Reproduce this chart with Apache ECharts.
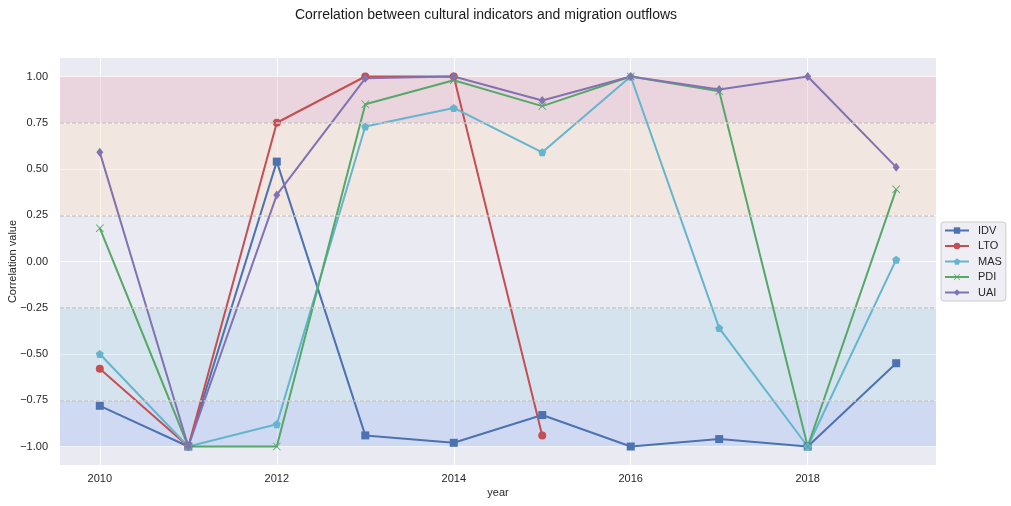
<!DOCTYPE html>
<html>
<head>
<meta charset="utf-8">
<script src="https://cdn.jsdelivr.net/npm/echarts@6/dist/echarts.min.js"></script>
<style>
html,body{margin:0;padding:0;background:#fff;}
#chart{width:1011px;height:506px;}
</style>
</head>
<body>
<div id="chart"></div>
<script>
const years = [2010, 2011, 2012, 2013, 2014, 2015, 2016, 2017, 2018, 2019];
const IDV = [-0.78, -1.00, 0.54, -0.94, -0.98, -0.83, -1.00, -0.96, -1.00, -0.55];
const LTO = [-0.58, -1.00, 0.75, 1.00, 1.00, -0.94, null, null, null, null];
const MAS = [-0.50, -1.00, -0.88, 0.73, 0.83, 0.59, 1.00, -0.36, -1.00, 0.01];
const PDI = [0.18, -1.00, -1.00, 0.85, 0.98, 0.84, 1.00, 0.92, -1.00, 0.39];
const UAI = [0.59, -1.00, 0.36, 0.99, 1.00, 0.87, 1.00, 0.93, 1.00, 0.51];
const xTicks = [2010, 2012, 2014, 2016, 2018];
const yTicks = [-1.00, -0.75, -0.50, -0.25, 0.00, 0.25, 0.50, 0.75, 1.00];
const bandEdges = [[0.75, 1.0], [0.25, 0.75], [-0.75, -0.25], [-1.0, -0.75]];
const dashedLevels = [0.75, 0.25, -0.25, -0.75];

const bandColors = ['rgba(234,161,172,0.30)', 'rgba(254,226,197,0.40)', 'rgba(164,211,229,0.30)', 'rgba(147,181,242,0.30)'];

const seriesDefs = [
  {name: 'IDV', data: IDV, color: '#4C72B0', symbol: 'rect', size: 8},
  {name: 'LTO', data: LTO, color: '#C44E52', symbol: 'circle', size: 8},
  {name: 'MAS', data: MAS, color: '#64B5CD', symbol: 'path://M0,-1L0.951,-0.309L0.588,0.809L-0.588,0.809L-0.951,-0.309Z', size: 8},
  {name: 'PDI', data: PDI, color: '#55A868', symbol: 'path://M-1,-0.85L-0.85,-1L0,-0.15L0.85,-1L1,-0.85L0.15,0L1,0.85L0.85,1L0,0.15L-0.85,1L-1,0.85L-0.15,0Z', size: 8},
  {name: 'UAI', data: UAI, color: '#8172B2', symbol: 'path://M0,-1L0.6,0L0,1L-0.6,0Z', size: [7, 9]}
];

const fmtY = v => (v < 0 ? '\u2212' : '') + Math.abs(v).toFixed(2);

const series = seriesDefs.map(d => ({
  name: d.name,
  type: 'line',
  data: years.map((y, i) => [y, d.data[i]]).filter(p => p[1] !== null),
  symbol: d.symbol,
  symbolSize: d.size,
  showAllSymbol: true,
  itemStyle: {color: d.color},
  lineStyle: {color: d.color, width: 2},
  emphasis: {disabled: true},
  z: 3
}));

series.unshift({
  name: 'bands',
  type: 'line',
  data: [],
  silent: true,
  z: 1,
  markArea: {
    silent: true,
    data: bandEdges.map((b, i) => [{yAxis: b[0], itemStyle: {color: bandColors[i]}}, {yAxis: b[1]}])
  },
  markLine: {
    silent: true,
    symbol: 'none',
    label: {show: false},
    lineStyle: {color: '#C8C8C8', type: [4, 2], width: 1.5},
    data: dashedLevels.map(v => ({yAxis: v}))
  }
});

const chart = echarts.init(document.getElementById('chart'), null, {renderer: 'canvas'});
chart.setOption({
  animation: false,
  backgroundColor: '#ffffff',
  textStyle: {fontFamily: 'Liberation Sans, Arial, sans-serif'},
  title: {
    text: 'Correlation between cultural indicators and migration outflows',
    left: 481,
    top: 3,
    textAlign: 'center',
    textStyle: {fontSize: 14, fontWeight: 'normal', color: '#1a1a1a', fontFamily: 'Liberation Sans, Arial, sans-serif'}
  },
  legend: {
    data: seriesDefs.map(d => d.name),
    orient: 'vertical',
    left: 941,
    top: 222,
    itemWidth: 24,
    itemHeight: 8,
    itemGap: 4.5,
    padding: [3, 4, 3, 3],
    backgroundColor: '#EEEEF4',
    borderColor: '#CCCCCC',
    borderWidth: 1,
    borderRadius: 3,
    textStyle: {fontSize: 11, color: '#262626', padding: [0, 0, 0, 4], fontFamily: 'Liberation Sans, Arial, sans-serif'}
  },
  grid: {left: 60, right: 75, top: 58, bottom: 41, backgroundColor: '#EAEAF2', show: true, borderWidth: 0, containLabel: false, outerBoundsMode: 'none'},
  xAxis: {
    type: 'value',
    min: 2009.55,
    max: 2019.45,
    name: 'year',
    nameLocation: 'middle',
    nameGap: 22,
    nameMoveOverlap: false,
    nameTextStyle: {fontSize: 11, color: '#262626'},
    axisLine: {show: false},
    axisTick: {show: false, customValues: xTicks},
    axisLabel: {customValues: xTicks, fontSize: 11, color: '#262626', margin: 8, formatter: v => String(v)},
    splitLine: {show: true, lineStyle: {color: '#ffffff', width: 1}, customValues: xTicks}
  },
  yAxis: {
    type: 'value',
    min: -1.1,
    max: 1.1,
    name: 'Correlation value',
    nameLocation: 'middle',
    nameGap: 42,
    nameMoveOverlap: false,
    nameTextStyle: {fontSize: 11, color: '#262626'},
    axisLine: {show: false},
    axisTick: {show: false, customValues: yTicks},
    axisLabel: {customValues: yTicks, fontSize: 11, color: '#262626', margin: 12, formatter: fmtY},
    splitLine: {show: true, lineStyle: {color: '#ffffff', width: 1}, customValues: yTicks}
  },
  series: series
});
</script>
</body>
</html>
